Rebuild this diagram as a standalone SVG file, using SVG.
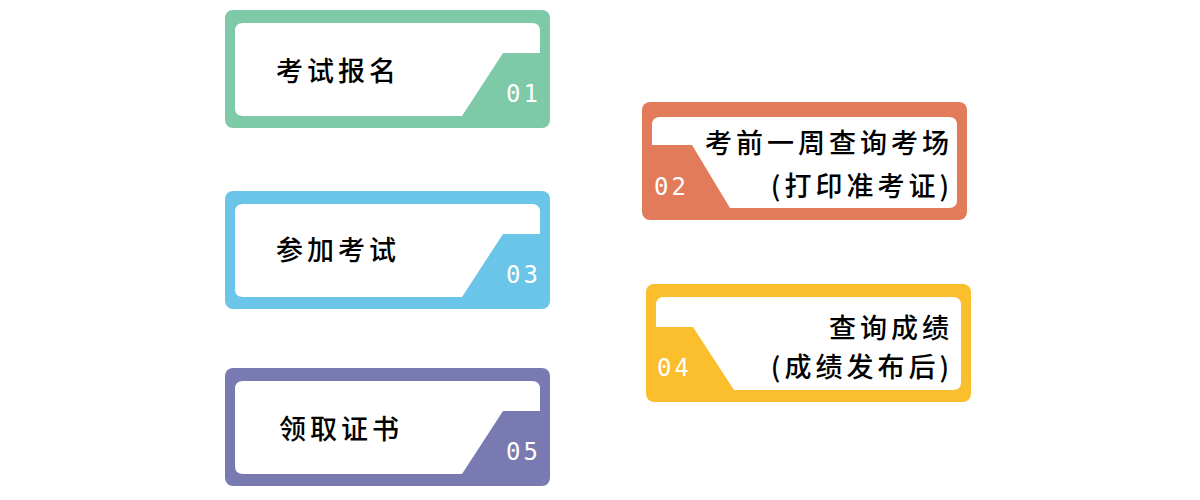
<svg xmlns="http://www.w3.org/2000/svg" width="1200" height="500" viewBox="0 0 1200 500">
<style>
.t{font-family:"Noto Sans CJK SC","Noto Sans",sans-serif;font-size:27px;font-weight:500;fill:#000;letter-spacing:4px;dominant-baseline:central}
.n{font-family:"DejaVu Sans Mono",monospace;font-size:24px;fill:#fff;letter-spacing:3px;font-weight:200;dominant-baseline:central}
.w{fill:#fff}
</style>
<rect width="1200" height="500" fill="#fff"/>
<g id="node1">
<rect x="225" y="10" width="325" height="118" rx="8" fill="#7DC9A8"/>
<path class="w" d="M243 23 H532 Q540 23 540 31 V53 H503 L462 116 H243 Q235 116 235 108 V31 Q235 23 243 23 Z"/>
<text class="t" x="276" y="69">考试报名</text>
<text class="n" x="506" y="94">01</text>
</g>
<g id="node2">
<rect x="642" y="102" width="325" height="118" rx="8" fill="#E27B5A"/>
<path class="w" d="M660 117 H949 Q957 117 957 125 V200 Q957 208 949 208 H730 L692 145 H652 V125 Q652 117 660 117 Z"/>
<text class="t" x="953" y="141" text-anchor="end">考前一周查询考场</text>
<text class="t" x="953" y="184" text-anchor="end">(打印准考证)</text>
<text class="n" x="654" y="187">02</text>
</g>
<g id="node3">
<rect x="225" y="191" width="325" height="118" rx="8" fill="#6AC5E8"/>
<path class="w" d="M243 204 H532 Q540 204 540 212 V234 H503 L462 297 H243 Q235 297 235 289 V212 Q235 204 243 204 Z"/>
<text class="t" x="276" y="248">参加考试</text>
<text class="n" x="506" y="275">03</text>
</g>
<g id="node4">
<rect x="646" y="284" width="325" height="118" rx="8" fill="#FBBE2C"/>
<path class="w" d="M664 297 H953 Q961 297 961 305 V382 Q961 390 953 390 H734 L693 327 H656 V305 Q656 297 664 297 Z"/>
<text class="t" x="953" y="326" text-anchor="end">查询成绩</text>
<text class="t" x="953" y="365" text-anchor="end">(成绩发布后)</text>
<text class="n" x="657" y="368">04</text>
</g>
<g id="node5">
<rect x="225" y="368" width="325" height="118" rx="8" fill="#7A7AB2"/>
<path class="w" d="M243 381 H532 Q540 381 540 389 V411 H503 L462 474 H243 Q235 474 235 466 V389 Q235 381 243 381 Z"/>
<text class="t" x="279" y="427">领取证书</text>
<text class="n" x="506" y="452">05</text>
</g>
<g id="connectors"></g>
</svg>
